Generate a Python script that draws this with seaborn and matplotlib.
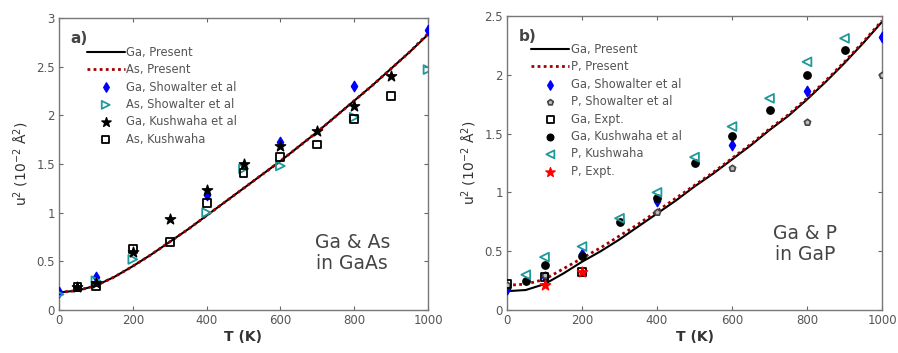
import numpy as np
import pandas as pd
import matplotlib
matplotlib.use("Agg")
import matplotlib.pyplot as plt
import seaborn as sns

# ---------------- data: panel a (GaAs) ----------------
T_curve = [0, 50, 100, 150, 200, 250, 300, 350, 400, 450, 500, 550, 600, 650, 700, 750, 800, 850, 900, 950, 1000]
a_ga_present = [0.18, 0.20, 0.25, 0.34, 0.45, 0.57, 0.70, 0.83, 0.97, 1.11, 1.25, 1.39, 1.53, 1.68, 1.83, 1.99, 2.15, 2.31, 2.48, 2.65, 2.83]
a_as_present = [0.18, 0.20, 0.25, 0.34, 0.45, 0.57, 0.70, 0.83, 0.97, 1.11, 1.25, 1.39, 1.53, 1.68, 1.83, 1.99, 2.15, 2.31, 2.48, 2.65, 2.84]

a_ga_show_T = [0, 100, 400, 600, 800, 1000]
a_ga_show_u = [0.19, 0.34, 1.18, 1.73, 2.30, 2.88]
a_as_show_T = [0, 100, 200, 400, 500, 600, 800, 1000]
a_as_show_u = [0.16, 0.30, 0.52, 1.00, 1.45, 1.48, 1.98, 2.47]
a_ga_kush_T = [50, 100, 200, 300, 400, 500, 600, 700, 800, 900]
a_ga_kush_u = [0.24, 0.28, 0.60, 0.93, 1.23, 1.50, 1.68, 1.84, 2.10, 2.40]
a_as_kush_T = [50, 100, 200, 300, 400, 500, 600, 700, 800, 900]
a_as_kush_u = [0.24, 0.25, 0.63, 0.70, 1.10, 1.41, 1.57, 1.70, 1.96, 2.20]

# ---------------- data: panel b (GaP) ----------------
b_ga_present = [0.16, 0.17, 0.22, 0.31, 0.41, 0.50, 0.60, 0.71, 0.82, 0.93, 1.05, 1.16, 1.28, 1.40, 1.53, 1.65, 1.79, 1.94, 2.10, 2.27, 2.45]
b_p_present = [0.21, 0.22, 0.26, 0.35, 0.44, 0.53, 0.63, 0.73, 0.84, 0.95, 1.06, 1.17, 1.29, 1.41, 1.54, 1.66, 1.80, 1.95, 2.11, 2.28, 2.46]

b_ga_show_T = [0, 100, 200, 400, 600, 800, 1000]
b_ga_show_u = [0.18, 0.28, 0.48, 0.93, 1.40, 1.86, 2.32]
b_p_show_T = [0, 100, 400, 600, 800, 1000]
b_p_show_u = [0.21, 0.30, 0.83, 1.21, 1.60, 2.00]
b_ga_expt_T = [0, 100, 200]
b_ga_expt_u = [0.22, 0.28, 0.32]
b_ga_kush_T = [50, 100, 200, 300, 400, 500, 600, 700, 800, 900]
b_ga_kush_u = [0.25, 0.38, 0.46, 0.75, 0.95, 1.25, 1.48, 1.70, 2.00, 2.21]
b_p_kush_T = [50, 100, 200, 300, 400, 500, 600, 700, 800, 900]
b_p_kush_u = [0.30, 0.45, 0.54, 0.78, 1.00, 1.30, 1.56, 1.80, 2.11, 2.31]
b_p_expt_T = [100, 200]
b_p_expt_u = [0.21, 0.32]

sns.set_style("white")
plt.rcParams['font.family'] = ['DejaVu Sans']

TXT = '#555555'
TEAL = '#1f9a9a'
DRED = '#a00000'

fig = plt.figure(figsize=(8.98, 3.53), dpi=100)
axA = fig.add_axes([59/898, 43/353, 369/898, 292/353])
axB = fig.add_axes([507/898, 43/353, 375/898, 294/353])

def style_axes(ax, ymax, yticks):
    ax.set_xlim(0, 1000)
    ax.set_ylim(0, ymax)
    ax.set_xticks([0, 200, 400, 600, 800, 1000])
    ax.set_yticks(yticks)
    ax.set_yticklabels([('%g' % v) for v in yticks])
    ax.tick_params(direction='in', length=3, width=0.8, colors='#666666',
                   labelcolor=TXT, labelsize=8.5, top=True, right=True,
                   bottom=True, left=True, pad=3)
    for s in ax.spines.values():
        s.set_color('#777777')
        s.set_linewidth(1.0)
    ax.set_xlabel('T (K)', fontsize=10, fontweight='bold', color='#333333', labelpad=2)
    ax.set_ylabel(r'u$^2$ (10$^{-2}$ Å$^2$)', fontsize=10, color='#333333', labelpad=4)

def scat(ax, T, u, marker, fc, ec, size, label, lw=1.0):
    df = pd.DataFrame({'T': T, 'u': u})
    sns.scatterplot(data=df, x='T', y='u', ax=ax, marker=marker, s=size,
                    facecolor=fc, edgecolor=ec, linewidth=lw, label=label, zorder=4)

def legend(ax, x, y):
    ax.legend(loc='upper left', bbox_to_anchor=(x, y), frameon=False, fontsize=8.3,
              labelcolor=TXT, handlelength=3.3, handletextpad=0.15, labelspacing=0.38,
              borderaxespad=0, borderpad=0, markerscale=0.9)

# ---- panel a ----
dfa = pd.DataFrame({'T': T_curve, 'ga': a_ga_present, 'as': a_as_present})
sns.lineplot(data=dfa, x='T', y='ga', ax=axA, color='black', lw=1.5, label='Ga, Present')
sns.lineplot(data=dfa, x='T', y='as', ax=axA, color=DRED, lw=2.0, ls=(0, (1, 1.2)), label='As, Present')
scat(axA, a_ga_show_T, a_ga_show_u, 'd', 'blue', 'blue', 28, 'Ga, Showalter et al')
scat(axA, a_as_show_T, a_as_show_u, '>', 'none', TEAL, 40, 'As, Showalter et al', lw=1.3)
scat(axA, a_ga_kush_T, a_ga_kush_u, '*', 'black', 'black', 60, 'Ga, Kushwaha et al')
scat(axA, a_as_kush_T, a_as_kush_u, 's', 'none', 'black', 32, 'As, Kushwaha', lw=1.3)
style_axes(axA, 3, [0, 0.5, 1, 1.5, 2, 2.5, 3])
legend(axA, 0.075, 0.905)
axA.text(0.03, 0.955, 'a)', transform=axA.transAxes, fontsize=11, fontweight='bold',
         color='#444444', va='top')
axA.text(0.795, 0.195, 'Ga & As\nin GaAs', transform=axA.transAxes, fontsize=13.5,
         color='#444444', ha='center', va='center', linespacing=1.15)

# ---- panel b ----
dfb = pd.DataFrame({'T': T_curve, 'ga': b_ga_present, 'p': b_p_present})
sns.lineplot(data=dfb, x='T', y='ga', ax=axB, color='black', lw=1.5, label='Ga, Present')
sns.lineplot(data=dfb, x='T', y='p', ax=axB, color=DRED, lw=2.0, ls=(0, (1, 1.2)), label='P, Present')
scat(axB, b_ga_show_T, b_ga_show_u, 'd', 'blue', 'blue', 28, 'Ga, Showalter et al')
scat(axB, b_p_show_T, b_p_show_u, 'p', '#bbbbbb', '#444444', 22, 'P, Showalter et al', lw=1.2)
scat(axB, b_ga_expt_T, b_ga_expt_u, 's', 'none', 'black', 32, 'Ga, Expt.', lw=1.3)
scat(axB, b_ga_kush_T, b_ga_kush_u, 'o', 'black', 'black', 28, 'Ga, Kushwaha et al')
scat(axB, b_p_kush_T, b_p_kush_u, '<', 'none', TEAL, 40, 'P, Kushwaha', lw=1.3)
scat(axB, b_p_expt_T, b_p_expt_u, '*', 'red', 'red', 60, 'P, Expt.')
style_axes(axB, 2.5, [0, 0.5, 1, 1.5, 2, 2.5])
legend(axB, 0.065, 0.908)
axB.text(0.03, 0.955, 'b)', transform=axB.transAxes, fontsize=11, fontweight='bold',
         color='#444444', va='top')
axB.text(0.795, 0.225, 'Ga & P\nin GaP', transform=axB.transAxes, fontsize=13.5,
         color='#444444', ha='center', va='center', linespacing=1.15)

fig.savefig('out.png', dpi=100)
